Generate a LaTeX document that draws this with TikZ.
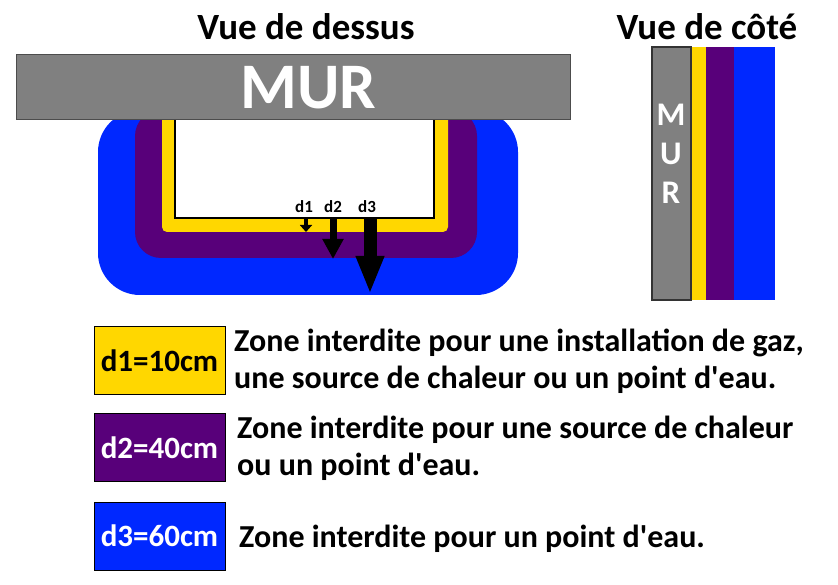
\documentclass[tikz,border=0pt]{standalone}
\usepackage{fontspec}
\setmainfont{Carlito}
\usetikzlibrary{arrows.meta}
\definecolor{zyellow}{HTML}{FFD700}
\definecolor{zpurple}{HTML}{58007A}
\definecolor{zblue}{HTML}{0028FF}
\definecolor{zgray}{HTML}{808080}
\tikzset{
  title/.style={font=\bfseries\fontsize{37}{40}\selectfont, inner sep=0pt},
  legtext/.style={font=\bfseries\fontsize{32}{37}\selectfont, align=left, anchor=west, inner sep=0pt},
  legbox/.style={draw=black, line width=1pt, minimum width=131pt, minimum height=68pt, inner sep=0pt, font=\bfseries\fontsize{31}{34}\selectfont},
  dlabel/.style={font=\bfseries\fontsize{17}{19}\selectfont, inner sep=0pt},
}
\begin{document}
\begin{tikzpicture}[x=1pt,y=-1pt]
\useasboundingbox (0,0) rectangle (838,585);
% titles
\node[title] (t1) at (306,27) {Vue de dessus};
\node[title] (t2) at (707,27) {Vue de côté};
% top view zones
\fill[zblue, rounded corners=42pt] (98,110) rectangle (518,295);
\fill[zpurple, rounded corners=26pt] (135,110) rectangle (477,258);
\fill[zyellow, rounded corners=5pt] (162,110) rectangle (448,232);
\filldraw[fill=white, draw=black, line width=1.2pt] (175,110) rectangle (434,218);
% wall
\node[draw=black!70, line width=1pt, fill=zgray, minimum width=554pt, minimum height=65pt, inner sep=0pt] (mur) at (293,87.5) {};
\node[text=white, inner sep=0pt, font=\bfseries\fontsize{65}{66}\selectfont] (murt) at (308.5,87.5) {MUR};
% arrows
\coordinate (a1s) at (306,218); \coordinate (a1e) at (306,232);
\coordinate (a2s) at (333,218); \coordinate (a2e) at (333,259);
\coordinate (a3s) at (370,218); \coordinate (a3e) at (370,294);
\draw[line width=4pt, -{Triangle[width=12pt,length=7pt]}] (a1s) -- (a1e);
\draw[line width=7pt, -{Triangle[width=20pt,length=20pt]}] (a2s) -- (a2e);
\draw[line width=13pt, -{Triangle[width=26pt,length=38pt]}] (a3s) -- (a3e);
\node[dlabel] (d1) at (304,207) {d1};
\node[dlabel] (d2) at (333,207) {d2};
\node[dlabel] (d3) at (367,207) {d3};
% side view
\fill[zblue] (734,47) rectangle (775,300);
\fill[zpurple] (706,47) rectangle (734,300);
\fill[zyellow] (691,47) rectangle (706,300);
\node[draw=black!80, line width=1.2pt, fill=zgray, minimum width=39pt, minimum height=253pt, inner sep=0pt] (smur) at (671.5,173.5) {};
\node[text=white, font=\bfseries\fontsize{33}{39}\selectfont, align=center, inner sep=0pt] (smurt) at (671,154) {M\\U\\R};
% legend
\node[legbox, fill=zyellow, text=black] (l1) at (159.5,360.5) {d1=10cm};
\node[legbox, fill=zpurple, text=white] (l2) at (159.5,447.5) {d2=40cm};
\node[legbox, fill=zblue, text=white] (l3) at (159.5,536) {d3=60cm};
\node[legtext] (x1) at (234,361) {Zone interdite pour une installation de gaz,\\une source de chaleur ou un point d\textquotesingle eau.};
\node[legtext] (x2) at (237,448) {Zone interdite pour une source de chaleur\\ou un point d\textquotesingle eau.};
\node[legtext] (x3) at (239,539) {Zone interdite pour un point d\textquotesingle eau.};
\end{tikzpicture}
\end{document}
